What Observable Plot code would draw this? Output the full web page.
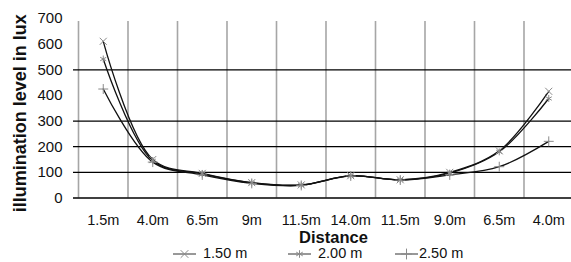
<!DOCTYPE html>
<html>
<head>
<meta charset="utf-8">
<script src="https://cdn.jsdelivr.net/npm/d3@7"></script>
<script src="https://cdn.jsdelivr.net/npm/@observablehq/plot@0.6"></script>
<style>
  body { margin: 0; background: #fff; font-family: "Liberation Sans", Arial, sans-serif; }
  #legend { position: relative; width: 571px; height: 12px; font-size: 14.5px; line-height: 15px; color: #111; }
  .item { position: absolute; top: -4px; height: 15px; display: flex; align-items: center; }
  .item svg { display: block; }
  g[aria-label="y-axis label"] text { font-size: 18px; font-weight: bold; }
</style>
</head>
<body>
<div id="chart"></div>
<div id="legend"></div>
<script>
// ---- data ----
const categories = ["1.5m", "4.0m", "6.5m", "9m", "11.5m", "14.0m", "11.5m", "9.0m", "6.5m", "4.0m"];
const seriesNames = ["1.50 m", "2.00 m", "2.50 m"];
const h150 = [611, 150, 96, 60, 51, 87, 71, 100, 184, 416];
const h200 = [542, 145, 94, 59, 50, 87, 71, 97, 180, 388];
const h250 = [425, 140, 90, 57, 49, 86, 70, 90, 122, 221];
const yTicks = [0, 100, 200, 300, 400, 500, 600, 700];
const yGrid = [0, 100, 200, 300, 500];
const xTitle = "Distance";
const yTitle = "illumination level in lux";

const symbols = ["times", "asterisk", "plus"];
const seriesValues = [h150, h200, h250];
const rows = [];
seriesValues.forEach((vals, s) => vals.forEach((v, i) => rows.push({series: seriesNames[s], i, value: v})));
const idx = categories.map((_, i) => i);
const bounds = idx.map(i => i - 0.5);

const font = "Liberation Sans, Arial, sans-serif";
const chart = Plot.plot({
  width: 571,
  height: 250,
  marginLeft: 73,
  marginRight: 0,
  marginTop: 18,
  marginBottom: 52.5,
  style: {fontFamily: font, background: "#fff", color: "#111", overflow: "visible"},
  x: {type: "linear", domain: [-0.5, categories.length - 0.5], range: [78, 573], label: null},
  y: {domain: [0, 700], label: null},
  symbol: {domain: seriesNames, range: symbols},
  marks: [
    Plot.ruleX(bounds, {x: d => d, y1: 0, y2: 700, stroke: "#a6a6a6", strokeWidth: 1.6, insetBottom: -3}),
    Plot.ruleY(yGrid, {stroke: "#000", strokeWidth: 1.3}),
    Plot.axisY({ticks: yTicks, tickSize: 0, tickPadding: 11, fontSize: 15, label: null}),
    Plot.axisY({ticks: [], tickSize: 0, label: yTitle, labelAnchor: "center", labelArrow: "none", labelOffset: 60}),
    Plot.axisX({ticks: idx, tickSize: 0, tickPadding: 17, fontSize: 14.5, tickFormat: i => categories[i], label: null}),
    Plot.line(rows, {x: "i", y: "value", z: "series", stroke: "#111", strokeWidth: 1.3, curve: "catmull-rom"}),
    Plot.dot(rows, {x: "i", y: "value", symbol: "series", stroke: "#8a8a8a", strokeWidth: 1, r: 3.3}),
    Plot.text([xTitle], {frameAnchor: "bottom", dx: 11, dy: 44.5, fontSize: 16.5, fontWeight: "bold", fill: "#111"})
  ]
});
document.getElementById("chart").appendChild(chart);
// nudge the y title down a little, keeping Plot's own placement
const yl = d3.select(chart).select('g[aria-label="y-axis label"]');
if (!yl.empty()) yl.attr("transform", ((yl.attr("transform") || "") + " translate(0,5)").trim());

// ---- legend ----
const legend = d3.select("#legend");
const legendLeft = [173, 288, 395];
const textGap = [7, 7, 1];
seriesNames.forEach((name, s) => {
  const item = legend.append("div").attr("class", "item").style("left", legendLeft[s] + "px");
  const svg = item.append("svg").attr("width", 23).attr("height", 12);
  svg.append("line").attr("x1", 0).attr("x2", 23).attr("y1", 6).attr("y2", 6).attr("stroke", "#333").attr("stroke-width", 1);
  const sym = {times: d3.symbolTimes, asterisk: d3.symbolAsterisk, plus: d3.symbolPlus}[symbols[s]];
  svg.append("path").attr("transform", "translate(11.5,6)").attr("d", d3.symbol(sym, 40)())
    .attr("fill", "none").attr("stroke", "#8a8a8a").attr("stroke-width", 1);
  item.append("span").style("margin-left", textGap[s] + "px").text(name);
});
</script>
</body>
</html>
